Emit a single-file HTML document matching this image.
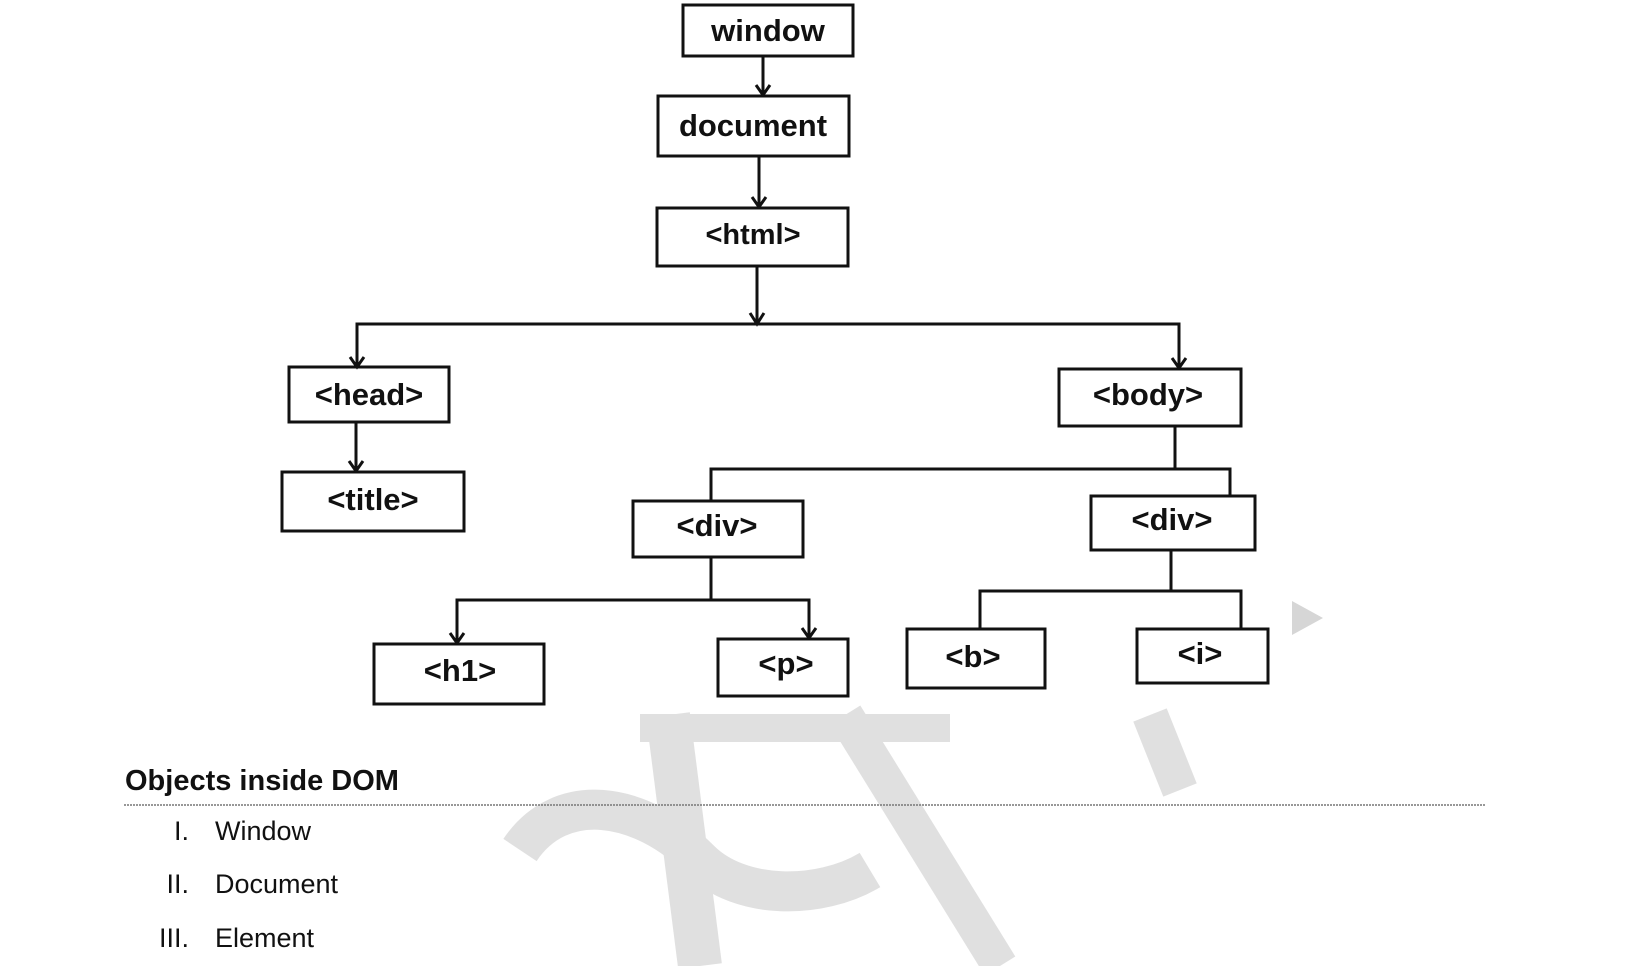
<!DOCTYPE html>
<html><head><meta charset="utf-8"><style>
html,body{margin:0;padding:0;background:#fff;}
body{width:1626px;height:966px;position:relative;overflow:hidden;font-family:"Liberation Sans",sans-serif;}
svg{position:absolute;left:0;top:0;}
</style></head><body>
<svg width="1626" height="966" viewBox="0 0 1626 966">
<g stroke="#d6d6d6" fill="none" stroke-linecap="butt" opacity="0.75">
<path d="M668 715 L700 966" stroke-width="44"/>
<path d="M845 715 L1000 966" stroke-width="36"/>
<path d="M640 728 L950 728" stroke-width="28"/>
<path d="M520 850 C560 790 640 800 700 860 C740 900 820 900 870 870" stroke-width="40"/>
<path d="M1150 715 L1180 790" stroke-width="36"/>
</g>
<polygon points="1292,601 1323,618 1292,635" fill="#d6d6d6"/>
<g stroke="#111" stroke-width="3" fill="none">
<rect x="683" y="5" width="170" height="51"/>
<rect x="658" y="96" width="191" height="60"/>
<rect x="657" y="208" width="191" height="58"/>
<rect x="289" y="367" width="160" height="55"/>
<rect x="282" y="472" width="182" height="59"/>
<rect x="1059" y="369" width="182" height="57"/>
<rect x="633" y="501" width="170" height="56"/>
<rect x="1091" y="496" width="164" height="54"/>
<rect x="374" y="644" width="170" height="60"/>
<rect x="718" y="639" width="130" height="57"/>
<rect x="907" y="629" width="138" height="59"/>
<rect x="1137" y="629" width="131" height="54"/>
<path d="M763 56 V95 M756 85 L763 95 L770 85"/>
<path d="M759 156 V207 M752 197 L759 207 L766 197"/>
<path d="M757 266 V324 M750 313 L757 324 L764 313"/>
<path d="M357 367 V324 H1179 V368 M350 357 L357 367 L364 357 M1172 358 L1179 368 L1186 358"/>
<path d="M356 422 V471 M349 461 L356 471 L363 461"/>
<path d="M1175 426 V469 M711 501 V469 H1230 V496"/>
<path d="M711 557 V600 M457 643 V600 H809 V638 M450 633 L457 643 L464 633 M802 628 L809 638 L816 628"/>
<path d="M1171 550 V591 M980 629 V591 H1241 V629"/>
</g>
<line x1="124" y1="805" x2="1485" y2="805" stroke="#777" stroke-width="1.5" stroke-dasharray="2 1"/>
<g font-family="Liberation Sans, sans-serif" font-weight="bold" font-size="31" fill="#111" text-anchor="middle">
<text x="768" y="41">window</text>
<text x="753" y="136">document</text>
<text x="753" y="244" font-size="29">&lt;html&gt;</text>
<text x="369" y="405">&lt;head&gt;</text>
<text x="373" y="510">&lt;title&gt;</text>
<text x="1148" y="405">&lt;body&gt;</text>
<text x="717" y="536">&lt;div&gt;</text>
<text x="1172" y="530">&lt;div&gt;</text>
<text x="460" y="681">&lt;h1&gt;</text>
<text x="786" y="674">&lt;p&gt;</text>
<text x="973" y="667">&lt;b&gt;</text>
<text x="1200" y="664">&lt;i&gt;</text>
</g>
<text x="125" y="790" font-family="Liberation Sans, sans-serif" font-weight="bold" font-size="29" fill="#111">Objects inside DOM</text>
<g font-family="Liberation Sans, sans-serif" font-size="27" fill="#111">
<text x="189" y="840" text-anchor="end">I.</text><text x="215" y="840">Window</text>
<text x="189" y="893" text-anchor="end">II.</text><text x="215" y="893">Document</text>
<text x="189" y="947" text-anchor="end">III.</text><text x="215" y="947">Element</text>
</g>
</svg>
</body></html>
